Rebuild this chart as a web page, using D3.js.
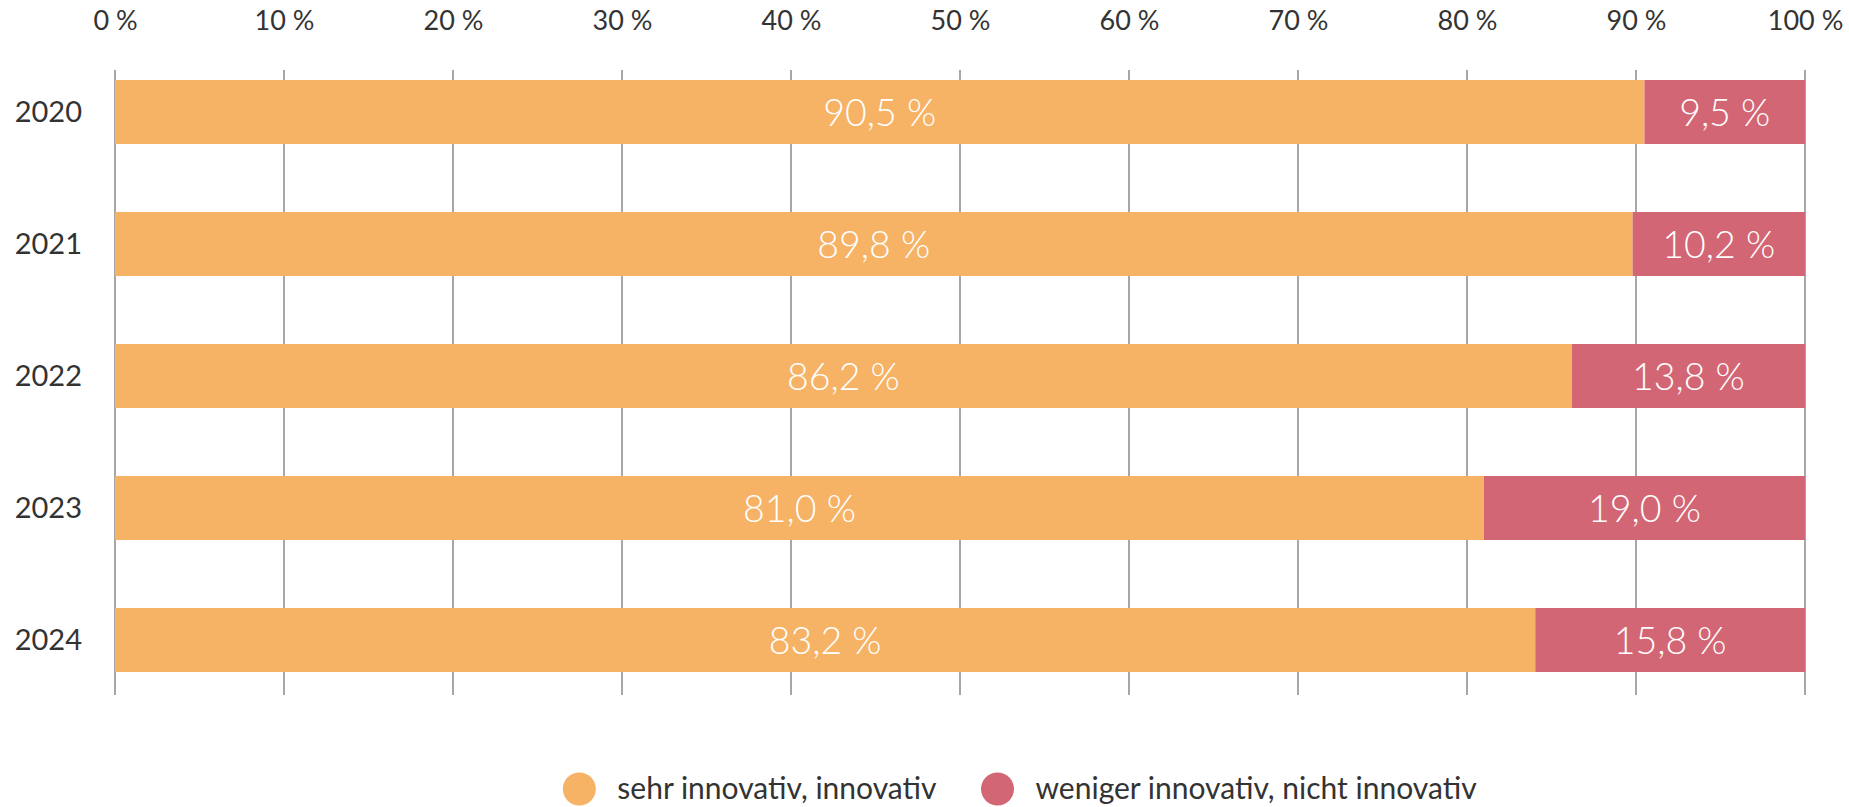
<!DOCTYPE html>
<html>
<head>
<meta charset="utf-8">
<script src="https://cdn.jsdelivr.net/npm/d3@7"></script>
<style>
  html, body { margin: 0; padding: 0; background: #fff; }
  svg { display: block; font-family: Lato, "Open Sans", sans-serif; }
</style>
</head>
<body>
<svg id="chart" width="1849" height="807"></svg>
<script>
const years = ["2020", "2021", "2022", "2023", "2024"];
const innovativ = [90.5, 89.8, 86.2, 81.0, 83.2];
const nichtInnovativ = [9.5, 10.2, 13.8, 19.0, 15.8];
const seriesNames = ["sehr innovativ, innovativ", "weniger innovativ, nicht innovativ"];
const seriesColors = ["#F6B265", "#D36674"];
const tickValues = [0, 10, 20, 30, 40, 50, 60, 70, 80, 90, 100];

const svg = d3.select("#chart");
const x = d3.scaleLinear().domain([0, 100]).range([115, 1805]);
const y = d3.scaleBand().domain(years).range([46, 706]).paddingInner(0.515).paddingOuter(0.2575);

const rows = years.map((yr, i) => ({ year: yr, a: innovativ[i], b: nichtInnovativ[i] }));
const stack = d3.stack().keys(["a", "b"]).offset(d3.stackOffsetExpand);
const stacked = stack(rows);

// gridlines
svg.append("g").selectAll("line").data(tickValues).join("line")
  .attr("x1", d => x(d)).attr("x2", d => x(d))
  .attr("y1", 70).attr("y2", 695)
  .attr("stroke", "#8a8a8a").attr("stroke-width", 1.5);

// top axis labels
const xAxis = d3.axisTop(x).tickValues(tickValues).tickSize(0).tickFormat(d => d + " %");
const gx = svg.append("g").attr("transform", "translate(0,33)").call(xAxis);
gx.select(".domain").remove();
gx.selectAll("text").attr("font-size", 27).attr("fill", "#333").attr("dy", 0)
  .attr("font-family", "Lato, sans-serif");

// left axis labels
const yAxis = d3.axisLeft(y).tickSize(0).tickPadding(0);
const gy = svg.append("g").attr("transform", "translate(82,0)").call(yAxis);
gy.select(".domain").remove();
gy.selectAll("text").attr("font-size", 29).attr("fill", "#333").attr("dy", "0.35em")
  .attr("font-family", "Lato, sans-serif");

// bars
const layers = svg.append("g").selectAll("g").data(stacked).join("g")
  .attr("fill", (d, i) => seriesColors[i]);
layers.selectAll("rect").data(d => d).join("rect")
  .attr("x", d => x(d[0] * 100))
  .attr("width", d => x(d[1] * 100) - x(d[0] * 100))
  .attr("y", d => y(d.data.year))
  .attr("height", y.bandwidth());

// bar labels
const labelData = [];
stacked.forEach((layer, li) => {
  layer.forEach(d => {
    labelData.push({ year: d.data.year, v: li === 0 ? d.data.a : d.data.b, x0: d[0], x1: d[1] });
  });
});
svg.append("g").selectAll("text").data(labelData).join("text")
  .attr("x", d => x((d.x0 + d.x1) / 2 * 100))
  .attr("y", d => y(d.year) + y.bandwidth() / 2)
  .attr("dy", "0.36em")
  .attr("text-anchor", "middle")
  .attr("fill", "#fff")
  .attr("font-size", 37.5)
  .attr("font-weight", 300)
  .text(d => d.v.toFixed(1).replace(".", ",") + " %");

// legend
const legend = svg.append("g");
const items = legend.selectAll("g").data(seriesNames).join("g");
items.append("circle").attr("r", 16.5).attr("cx", 0).attr("cy", 0).attr("fill", (d, i) => seriesColors[i]);
items.append("text").attr("x", 38).attr("y", 0).attr("dy", "0.33em")
  .attr("font-size", 30).attr("fill", "#333").text(d => d);
const widths = [];
items.each(function () { widths.push(this.getBBox().width); });
const gap = 44;
const total = widths.reduce((a, b) => a + b, 0) + gap * (widths.length - 1);
let start = 1020 - total / 2 + 16.5;
items.attr("transform", (d, i) => {
  const t = `translate(${start},789)`;
  start += widths[i] + gap;
  return t;
});
</script>
</body>
</html>
